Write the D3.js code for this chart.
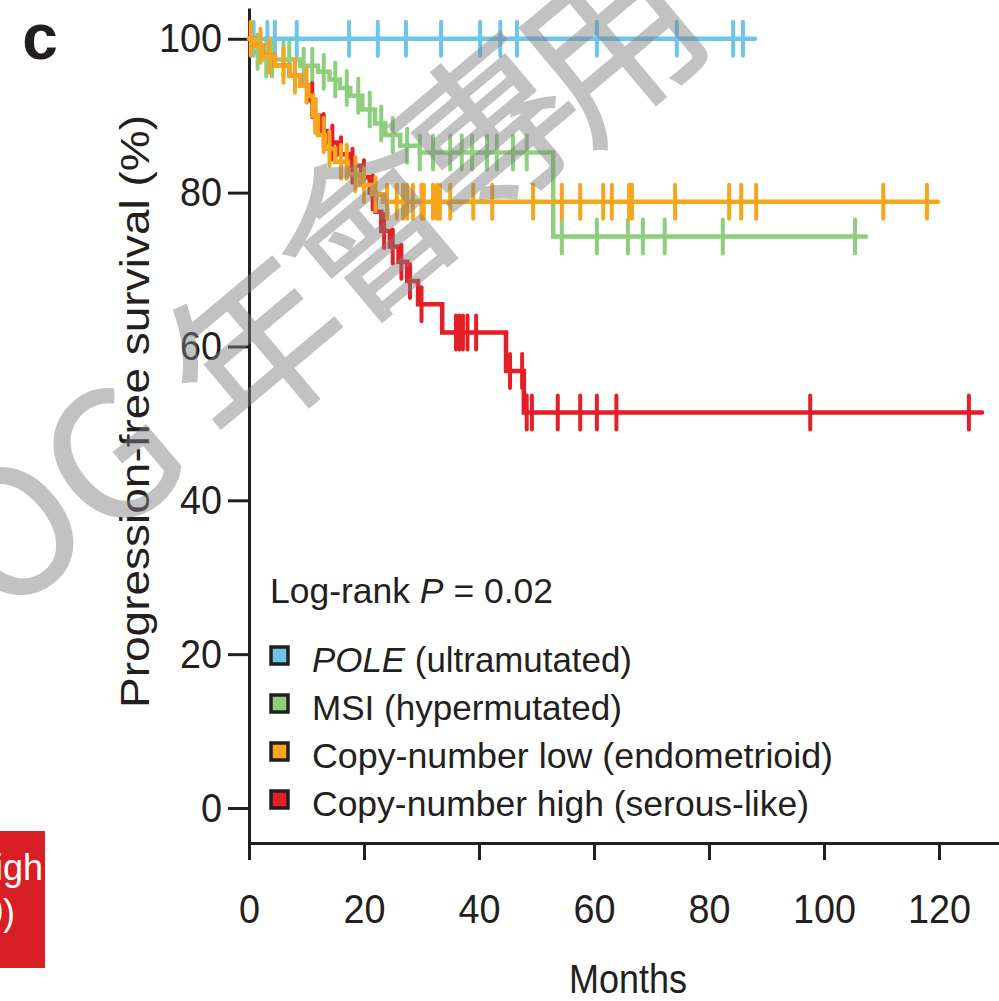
<!DOCTYPE html>
<html>
<head>
<meta charset="utf-8">
<script src="https://cdn.jsdelivr.net/npm/d3@7"></script>
<style>
  body { margin: 0; background: #fff; }
  svg { display: block; }
  text { font-family: "Liberation Sans", Arial, sans-serif; fill: #231f20; }
</style>
</head>
<body>
<div id="chart"></div>
<script>
// ---- data (months / % progression-free) ----
const groupNames = ["POLE (ultramutated)", "MSI (hypermutated)", "Copy-number low (endometrioid)", "Copy-number high (serous-like)"];
const groupColors = ["#6dc6ea", "#8ecf7e", "#f8a51d", "#e41f27"];

const poleEventTimes = [];
const poleSurv = [];
const poleCensor = [0.8, 3.2, 4.5, 8.3, 17.4, 22.4, 27.3, 33.4, 40.2, 43.7, 46.6, 60.5, 74.4, 84.2, 85.9];
const poleEnd = 88;

const msiEventTimes = [0.5, 2.3, 8.9, 12, 14, 15.8, 17.6, 19.7, 21.9, 23.7, 26.3, 29.7, 52.9];
const msiSurv = [98.3, 97.3, 96.5, 95.7, 94.7, 93.6, 92.6, 90.8, 89.0, 87.5, 86.1, 85.2, 74.3];
const msiCensor = [1.5, 3, 4, 6, 7, 9.5, 11, 13, 15, 17, 19, 21, 23, 25, 27.5, 29.7, 32, 35, 37, 38.8, 41.4, 43.1, 45.9, 48.3, 54.4, 60.5, 65.9, 68.5, 72.3, 82.4, 105.4];
const msiEnd = 107.3;

const cnLowEventTimes = [1, 2.3, 4.5, 7.1, 8.9, 10.3, 11.1, 12, 13.2, 15, 17.2, 19.3, 21.4, 23.3];
const cnLowSurv = [99.1, 97.8, 96.5, 95.2, 93.9, 92.6, 90, 87.5, 85.7, 84, 82.4, 81, 79.8, 78.8];
const cnLowCensor = [0.3, 2, 3.5, 6, 8, 10, 11.5, 13, 14, 16, 17, 18.5, 20, 22, 24, 25.7, 26.8, 27.5, 28.5, 30, 30.4, 32, 32.7, 33.2, 35, 39, 42.3, 49.4, 54.4, 57.6, 61.6, 63.1, 66.1, 66.6, 74.1, 83.5, 85.6, 88.2, 110.3, 117.9];
const cnLowEnd = 119.8;

const cnHighEventTimes = [1, 2.3, 4.5, 7.1, 8.9, 10.5, 11.5, 12.5, 13.5, 15.5, 17.5, 19.5, 21, 22, 23, 24.5, 26, 27.5, 29.4, 33.6, 44.7, 47.8];
const cnHighSurv = [99.1, 97.8, 96.5, 95.2, 93.9, 92, 90, 88, 86.5, 85, 83.5, 82, 80, 77.5, 75, 73, 71, 68.5, 65.5, 61.8, 56.8, 51.4];
const cnHighCensor = [11, 13, 14.5, 16, 18, 20, 21.5, 23.5, 25, 26.5, 28, 30, 36, 36.6, 37.2, 38, 39.5, 45.4, 47.5, 48.3, 49.2, 53.7, 57.6, 60.5, 63.9, 97.6, 125.2];
const cnHighEnd = 127.5;

const xTicks = [0, 20, 40, 60, 80, 100, 120];
const yTicks = [0, 20, 40, 60, 80, 100];

const series = [
    {name: groupNames[0], color: groupColors[0], times: poleEventTimes, surv: poleSurv, censor: poleCensor, end: poleEnd},
    {name: groupNames[1], color: groupColors[1], times: msiEventTimes, surv: msiSurv, censor: msiCensor, end: msiEnd},
    {name: groupNames[2], color: groupColors[2], times: cnLowEventTimes, surv: cnLowSurv, censor: cnLowCensor, end: cnLowEnd},
    {name: groupNames[3], color: groupColors[3], times: cnHighEventTimes, surv: cnHighSurv, censor: cnHighCensor, end: cnHighEnd}
]
// red goes under orange, the rest in legend order
const drawOrder = [0, 1, 3, 2]

const W = 999, H = 1001

const svg = d3.select("#chart").append("svg")
    .attr("width", W)
    .attr("height", H)

const x = d3.scaleLinear().domain([0, 131]).range([249, 249 + 131 * 5.75])
const y = d3.scaleLinear().domain([-4.55, 104]).range([843, 8])

// stretch text horizontally to the widths seen in the figure
function fit(sel, w){
    sel.attr("textLength", w).attr("lengthAdjust", "spacingAndGlyphs")
}

// ---- red box cut by the left edge (neighbouring panel) ----
svg.append("rect").attr("x", -10).attr("y", 831).attr("width", 55).attr("height", 137).attr("fill", "#d91f26")
svg.append("text").attr("x", 43).attr("y", 880).attr("text-anchor", "end")
    .style("fill", "#fff").style("font-size", "36px").text("Copy-number high")
svg.append("text").attr("x", 15).attr("y", 925).attr("text-anchor", "end")
    .style("fill", "#fff").style("font-size", "36px").text("(n = 60)")

// ---- axes ----
const xAxis = svg.append("g")
    .attr("transform", `translate(0,${y(-4.55)})`)
    .call(d3.axisBottom(x).tickValues(xTicks).tickSize(17).tickSizeOuter(0).tickPadding(34))
const yAxis = svg.append("g")
    .attr("transform", `translate(${x(0)},0)`)
    .call(d3.axisLeft(y).tickValues(yTicks).tickSize(21).tickSizeOuter(0).tickPadding(6))

svg.selectAll(".domain, .tick line").attr("stroke", "#231f20").attr("stroke-width", 3)
svg.selectAll(".tick text").style("font-size", "41px").attr("font-family", null).attr("fill", "#231f20")
    .each(function(){ fit(d3.select(this), this.textContent.length * 21) })

svg.append("text").attr("x", 628).attr("y", 993).attr("text-anchor", "middle")
    .style("font-size", "41px").call(fit, 118).text("Months")

svg.append("text")
    .attr("transform", `translate(149,${(115 + 708) / 2}) rotate(-90)`)
    .attr("text-anchor", "middle")
    .style("font-size", "41px").call(fit, 593)
    .text("Progression-free survival (%)")

svg.append("text").attr("x", 40).attr("y", 59).attr("text-anchor", "middle")
    .style("font-size", "64px").style("font-weight", "900").text("c")

// ---- KM curves ----
function stepPoints(s){
    let pts = [[0, 100]]
    let cur = 100
    s.times.forEach((t, i) => {
        pts.push([t, cur])
        cur = s.surv[i]
        pts.push([t, cur])
    })
    pts.push([s.end, cur])
    return pts
}
function survAt(s, t){
    let v = 100
    s.times.forEach((tt, i) => { if (tt <= t) v = s.surv[i] })
    return v
}

const line = d3.line().x(d => x(d[0])).y(d => y(d[1]))
const curves = svg.append("g")

drawOrder.forEach(k => {
    const s = series[k]
    const g = curves.append("g")
    g.append("path")
        .attr("d", line(stepPoints(s)))
        .attr("fill", "none")
        .attr("stroke", s.color)
        .attr("stroke-width", 4.5)
        .attr("stroke-linecap", "round")
    g.selectAll("line.censor")
        .data(s.censor)
        .enter()
        .append("line")
        .attr("class", "censor")
        .attr("x1", d => x(d)).attr("x2", d => x(d))
        .attr("y1", d => y(survAt(s, d)) - 17)
        .attr("y2", d => y(survAt(s, d)) + 17)
        .attr("stroke", s.color)
        .attr("stroke-width", 4)
        .attr("stroke-linecap", "round")
})

// ---- legend ----
const lg = svg.append("g")
const pt = lg.append("text").attr("x", 270).attr("y", 603).style("font-size", "35px").call(fit, 283)
pt.append("tspan").text("Log-rank ")
pt.append("tspan").style("font-style", "italic").text("P")
pt.append("tspan").text(" = 0.02")

const legendWidths = [320, 310, 521, 497]
series.forEach((s, i) => {
    const by = 672 + i * 48
    lg.append("rect")
        .attr("x", 271).attr("y", by - 25).attr("width", 17).attr("height", 17)
        .attr("fill", s.color).attr("stroke", "#231f20").attr("stroke-width", 3.5)
    const t = lg.append("text").attr("x", 312).attr("y", by).style("font-size", "35px").call(fit, legendWidths[i])
    if (i === 0) {
        t.append("tspan").style("font-style", "italic").text("POLE")
        t.append("tspan").text(" (ultramutated)")
    } else {
        t.text(s.name)
    }
})

// ---- watermark ----
const wmChars = ["O", "G", "年", "會", "專", "用"]
const wmX = [12, 112, 258, 370, 490, 612]
const wmY = [532, 458, 350, 232, 132, 44]
const wm = svg.append("g").attr("opacity", 0.48)
wmChars.forEach((c, i) => {
    wm.append("text")
        .attr("transform", `translate(${wmX[i]},${wmY[i]}) rotate(-40)`)
        .attr("text-anchor", "middle")
        .attr("dy", "0.36em")
        .style("font-family", "'Noto Sans CJK TC', 'Noto Sans', sans-serif")
        .style("font-size", "175px")
        .style("fill", "#808080")
        .style("stroke", "#808080")
        .style("stroke-width", 1.5)
        .text(c)
})
</script>
</body>
</html>
